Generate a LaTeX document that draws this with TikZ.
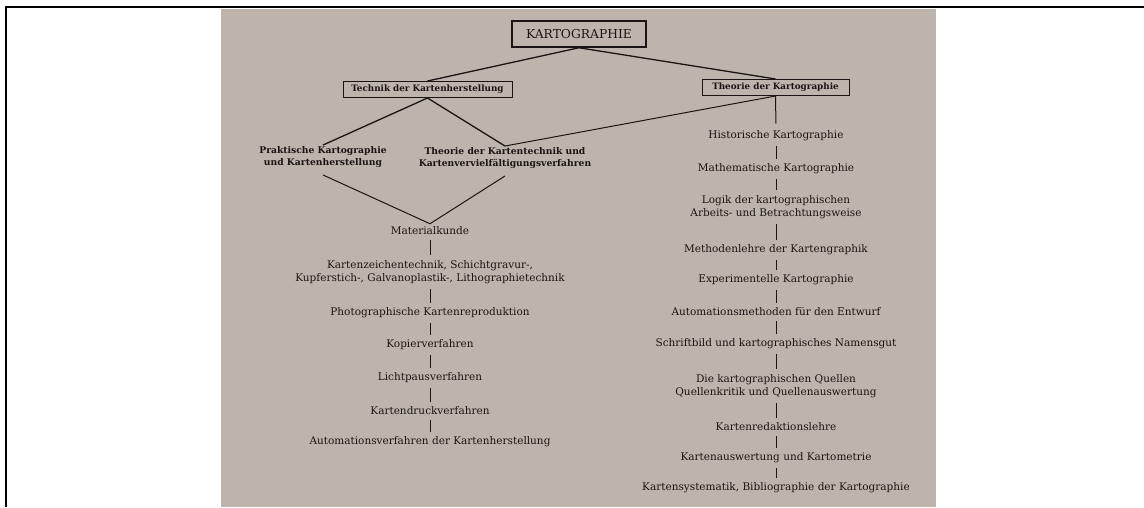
\documentclass[tikz,border=0pt]{standalone}
\usepackage{fontspec}
\setmainfont{DejaVu Serif}
\usepackage{tikz}
\usetikzlibrary{positioning}
\definecolor{paper}{HTML}{BDB5AD}
\definecolor{ink}{HTML}{1A1414}
\tikzset {
  % the scanned page and its frame
  page/.style={fill=paper, draw=none},
  frame/.style={line width=2.5pt, black},
  % boxed headings
  rootbox/.style={draw=ink, text=ink, line width=1.5pt, inner sep=0pt,
    minimum width=134pt, minimum height=26pt, font=\fontsize{12.3}{14}\selectfont},
  branch/.style={draw=ink, text=ink, line width=1pt, inner sep=0pt,
    minimum height=16pt, font=\bfseries\fontsize{8.8}{10}\selectfont},
  % unboxed entries
  sub/.style={align=center, text=ink, inner sep=1pt, font=\bfseries\fontsize{9.2}{12.5}\selectfont},
  entry/.style={align=center, text=ink, inner sep=1pt, font=\fontsize{10.5}{13.5}\selectfont},
  % connecting lines
  link/.style={draw=ink, line width=1.3pt},
  thin link/.style={draw=ink, line width=1pt},
  chain/.style={draw=ink, line width=1pt, shorten <=4pt, shorten >=4pt},
}

\begin{document}
\begin{tikzpicture}[x=1pt, y=-1pt]
  \useasboundingbox (0,0) rectangle (1144,507);
  \fill[page] (221,9) rectangle (936,507);
  \draw[frame] (6,507) -- (6,7) -- (1144,7);

  % top of the tree
  \node[rootbox] (root) at (579,34) {KARTOGRAPHIE};
  \node[branch, minimum width=169pt] (tech) at (427.5,89.5) {Technik der Kartenherstellung};
  \node[branch, minimum width=147pt] (theo) at (775.5,87.5) {Theorie der Kartographie};

  \node[sub] (prakt) at (323,157) {Praktische Kartographie\\und Kartenherstellung};
  \node[sub] (ktech) at (505,158) {Theorie der Kartentechnik und\\Kartenvervielfältigungsverfahren};

  \draw[link] (root.south) -- (tech.north);
  \draw[link] (root.south) -- (theo.north);
  \draw[link] (tech.south) -- (prakt.north);
  \draw[link] (tech.south) -- (ktech.north);
  \draw[thin link] (theo.south) -- (ktech.north);

  % left column
  \node[entry] (mat) at (430,231) {Materialkunde};
  \node[entry] (zeich) at (430,272) {Kartenzeichentechnik, Schichtgravur-,\\Kupferstich-, Galvanoplastik-, Lithographietechnik};
  \node[entry] (photo) at (430,313) {Photographische Kartenreproduktion};
  \node[entry] (kopier) at (430,345) {Kopierverfahren};
  \node[entry] (licht) at (430,378) {Lichtpausverfahren};
  \node[entry] (druck) at (430,411) {Kartendruckverfahren};
  \node[entry] (autov) at (430,442) {Automationsverfahren der Kartenherstellung};

  \draw[thin link] (prakt.south) ++(0,6) -- ([yshift=2pt]mat.north);
  \draw[thin link] (ktech.south) ++(0,6) -- ([yshift=2pt]mat.north);
  \foreach \a/\b in {mat/zeich, zeich/photo, photo/kopier, kopier/licht, licht/druck, druck/autov}
    \draw[chain] (\a) -- (\b);

  % right column
  \node[entry] (hist) at (776,136) {Historische Kartographie};
  \node[entry] (mathe) at (776,169) {Mathematische Kartographie};
  \node[entry] (logik) at (776,207) {Logik der kartographischen\\Arbeits- und Betrachtungsweise};
  \node[entry] (method) at (776,250) {Methodenlehre der Kartengraphik};
  \node[entry] (experi) at (776,280) {Experimentelle Kartographie};
  \node[entry] (autom) at (776,312) {Automationsmethoden für den Entwurf};
  \node[entry] (schrift) at (776,344) {Schriftbild und kartographisches Namensgut};
  \node[entry] (quellen) at (776,386) {Die kartographischen Quellen\\Quellenkritik und Quellenauswertung};
  \node[entry] (redakt) at (776,427) {Kartenredaktionslehre};
  \node[entry] (auswert) at (776,458) {Kartenauswertung und Kartometrie};
  \node[entry] (system) at (776,488) {Kartensystematik, Bibliographie der Kartographie};

  \draw[chain, shorten <=0pt, shorten >=6pt] (theo) -- (hist);
  \foreach \a/\b in {hist/mathe, mathe/logik, logik/method, method/experi, experi/autom,
                     autom/schrift, schrift/quellen, quellen/redakt, redakt/auswert, auswert/system}
    \draw[chain] (\a) -- (\b);
\end{tikzpicture}
\end{document}
